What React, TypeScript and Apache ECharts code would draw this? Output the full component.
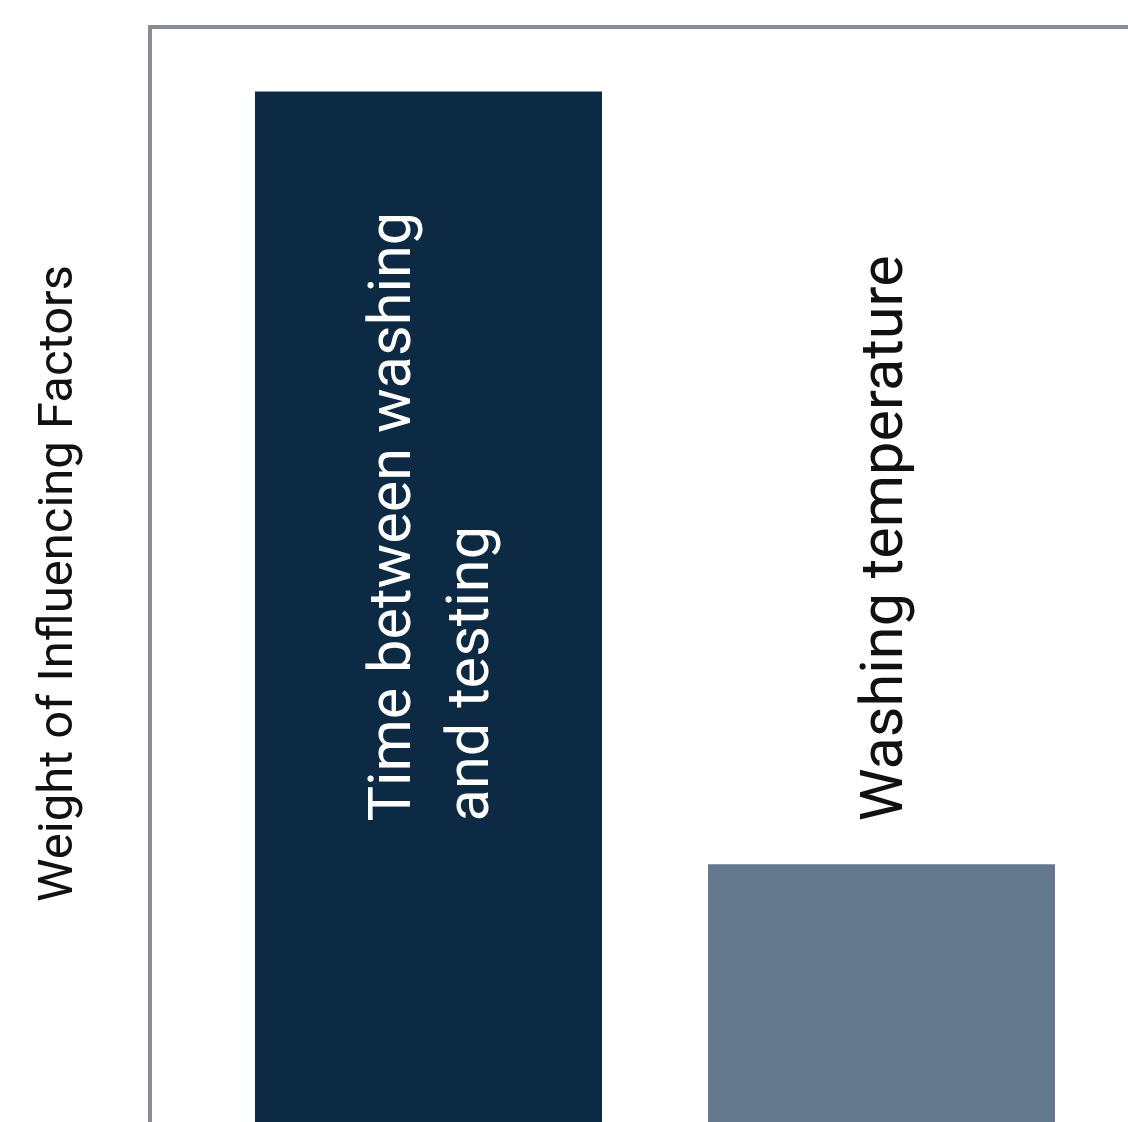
import React, { useEffect, useRef } from "react";
import * as echarts from "echarts";

const categories = ["Time between washing\nand testing", "Washing temperature"];
const weights = [80, 20];
const barColors = ["#0d2a45", "#64788e"];
const labelColors = ["#ffffff", "#111111"];
const yMax = 85;

export default function App() {
  const ref = useRef<HTMLDivElement>(null);
  useEffect(() => {
    document.body.style.margin = "0";
    const chart = echarts.init(ref.current!, null, { renderer: "svg" });
    const labelPositions: any[] = [
      ["50%", 730],
      ["50%", -43],
    ];
    chart.setOption({
      animation: false,
      backgroundColor: "#ffffff",
      textStyle: { fontFamily: "Roboto" },
      grid: { left: 202, right: 20, top: 27, bottom: 0 },
      xAxis: {
        type: "category",
        data: categories,
        axisLine: { show: false },
        axisTick: { show: false },
        axisLabel: { show: false },
      },
      yAxis: {
        type: "value",
        min: 0,
        max: yMax,
        offset: 52,
        name: "Weight of Influencing Factors",
        nameLocation: "middle",
        nameGap: 70,
        nameTextStyle: {
          fontSize: 49,
          color: "#111111",
          fontFamily: "Roboto",
          padding: [0, 18, 0, 0],
        },
        axisLine: { show: true, lineStyle: { color: "#868d96", width: 4 } },
        axisTick: { show: false },
        axisLabel: { show: false },
        splitLine: { show: false },
      },
      graphic: [
        {
          type: "line",
          shape: { x1: 148, y1: 27, x2: 1128, y2: 27 },
          style: { stroke: "#868d96", lineWidth: 4 },
          silent: true,
        },
      ],
      series: [
        {
          type: "bar",
          barCategoryGap: "23.4%",
          data: weights.map((v, i) => ({
            value: v,
            itemStyle: { color: barColors[i] },
            label: {
              show: true,
              formatter: () => categories[i],
              position: labelPositions[i],
              rotate: 90,
              align: "left",
              verticalAlign: "middle",
              color: labelColors[i],
              fontSize: 59.5,
              lineHeight: 78,
              fontFamily: "Roboto",
            },
          })),
        },
      ],
    });
    return () => chart.dispose();
  }, []);
  return <div ref={ref} style={{ width: 1128, height: 1122 }} />;
}
